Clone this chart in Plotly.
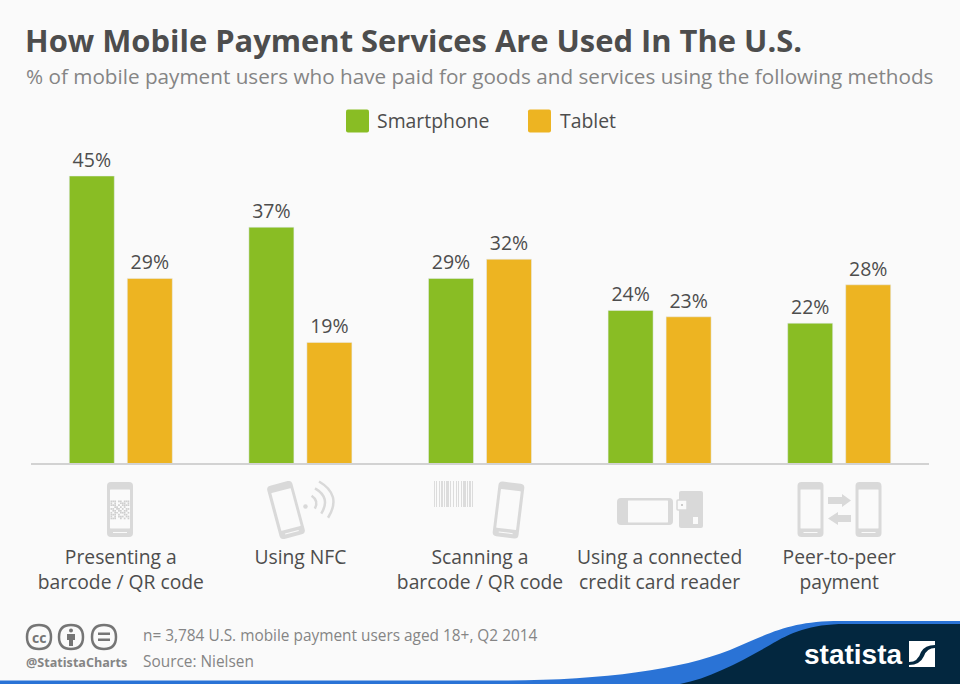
import math
import plotly.graph_objects as go

# chart data
categories = ["Presenting a<br>barcode / QR code", "Using NFC", "Scanning a<br>barcode / QR code",
              "Using a connected<br>credit card reader", "Peer-to-peer<br>payment"]
smartphone = [45, 37, 29, 24, 22]
tablet = [29, 19, 32, 23, 28]

title = "How Mobile Payment Services Are Used In The U.S."
subtitle = "% of mobile payment users who have paid for goods and services using the following methods"
note = "n= 3,784 U.S. mobile payment users aged 18+, Q2 2014"
source = "Source: Nielsen"
handle = "@StatistaCharts"

GREEN = "#89bd24"
YELLOW = "#edb422"
DARK = "#4d4d4d"
GREY = "#858585"
ICON = "#d9d9d9"
BG = "#fafafa"
NAVY = "#03273f"
BLUE = "#2a73d6"
FONT = "Open Sans"

# plot area in page pixels
LEFT, RIGHT, TOP, BASE = 31, 929, 144, 464


def fx(x):
    return (x - LEFT) / (RIGHT - LEFT)


def fy(y):
    return (BASE - y) / (BASE - TOP)


def pt(x, y):
    return f"{fx(x):.5f},{fy(y):.5f}"


shapes = []


def add_path(d, fill=None, line=None, width=0):
    shapes.append(dict(type="path", xref="paper", yref="paper", path=d,
                       fillcolor=fill or "rgba(0,0,0,0)",
                       line=dict(color=line or "rgba(0,0,0,0)", width=width)))


def poly(points):
    return "M" + " L".join(pt(x, y) for x, y in points) + " Z"


def rrect(cx, cy, w, h, r, angle=0):
    # rounded rectangle rotated around its centre
    a = math.radians(angle)

    def p(x, y):
        return pt(cx + x * math.cos(a) - y * math.sin(a), cy + x * math.sin(a) + y * math.cos(a))

    hw, hh = w / 2, h / 2
    return (f"M{p(-hw + r, -hh)} L{p(hw - r, -hh)} Q{p(hw, -hh)} {p(hw, -hh + r)} "
            f"L{p(hw, hh - r)} Q{p(hw, hh)} {p(hw - r, hh)} L{p(-hw + r, hh)} "
            f"Q{p(-hw, hh)} {p(-hw, hh - r)} L{p(-hw, -hh + r)} Q{p(-hw, -hh)} {p(-hw + r, -hh)} Z")


def phone(cx, cy, w=26, h=55, angle=0):
    a = math.radians(angle)
    add_path(rrect(cx, cy, w, h, 4, angle), fill=ICON)
    add_path(rrect(cx, cy - 0.5, w - 6, h - 16, 0.5, angle), fill=BG)
    # home button line
    bx, by = 0, h / 2 - 4.5
    add_path(rrect(cx + bx * math.cos(a) - by * math.sin(a), cy + bx * math.sin(a) + by * math.cos(a),
                   w - 12, 1, 0, angle), fill=BG)


def arc(cx, cy, r, mid, half):
    m, t = math.radians(mid), math.radians(half)
    x0, y0 = cx + r * math.cos(m - t), cy + r * math.sin(m - t)
    x1, y1 = cx + r * math.cos(m + t), cy + r * math.sin(m + t)
    qx, qy = cx + r / math.cos(t) * math.cos(m), cy + r / math.cos(t) * math.sin(m)
    add_path(f"M{pt(x0, y0)} Q{pt(qx, qy)} {pt(x1, y1)}", line=ICON, width=2.5)


# axis line
add_path(poly([(LEFT, 463), (RIGHT, 463), (RIGHT, 465), (LEFT, 465)]), fill="#d2d2d2")

# icon 1: phone with QR code
phone(120, 509.5)
qr_rows = ["1110110111", "1010011101", "1110101111", "0011010100", "1101101011",
           "0110110110", "1011011101", "1110100110", "1010111011", "1110010101"]
for row, bits in enumerate(qr_rows):
    for col, bit in enumerate(bits):
        if bit == "1":
            x, y = 110.5 + col * 1.9, 500.5 + row * 1.9
            add_path(poly([(x, y), (x + 1.7, y), (x + 1.7, y + 1.7), (x, y + 1.7)]), fill="#cfcfcf")

# icon 2: tilted phone and NFC waves
phone(286, 510, angle=-15)
add_path(rrect(305.5, 506.5, 4.5, 4.5, 2.2), fill=ICON)
arc(306, 504, 10, -14, 42)
arc(306, 504, 18, -14, 46)
arc(306, 504, 26, -14, 46)

# icon 3: barcode and phone
bar_widths = [1, 1, 1, 2, 1, 1, 2, 1, 1, 1, 3, 1, 1, 2, 1, 2, 1, 1, 1, 2, 1, 1, 3, 1, 1, 1, 2, 1, 1, 1]
bar_x = 434
for n, bw in enumerate(bar_widths):
    if n % 2 == 0:
        add_path(poly([(bar_x, 481), (bar_x + bw, 481), (bar_x + bw, 507), (bar_x, 507)]), fill="#dcdcdc")
    bar_x += bw
phone(508.5, 510, angle=7)

# icon 4: sideways phone with card reader
add_path(rrect(645, 511.5, 56, 27, 4), fill=ICON)
add_path(rrect(648, 511.5, 40, 22, 0.5), fill=BG)
add_path(rrect(691, 509.5, 24, 37, 2), fill=ICON)
add_path(rrect(682, 505, 10, 10, 1), fill=BG, line=ICON, width=1.5)
add_path(rrect(682, 505, 2, 2, 1), fill="#bdbdbd")
add_path(rrect(695.5, 520.5, 5, 7, 0), fill=BG)

# icon 5: two phones and arrows
phone(810.5, 509.5)
phone(868.5, 509.5)
add_path(poly([(828, 497), (842, 497), (842, 494), (851, 500.5), (842, 507), (842, 504), (828, 504)]), fill=ICON)
add_path(poly([(851, 515), (838, 515), (838, 512), (828, 518.5), (838, 525), (838, 522), (851, 522)]), fill=ICON)

# legend swatches
add_path(rrect(357.5, 121, 23, 23, 2), fill=GREEN)
add_path(rrect(539.5, 121, 23, 23, 2), fill=YELLOW)

# footer band
add_path(f"M{pt(0, 680.5)} L{pt(500, 680.5)} C{pt(600, 680.5)} {pt(680, 670)} {pt(730, 650)} "
         f"C{pt(770, 633)} {pt(790, 621)} {pt(840, 621)} L{pt(960, 621)} L{pt(960, 684)} L{pt(0, 684)} Z", fill=BLUE)
add_path(f"M{pt(680, 684)} C{pt(710, 678)} {pt(740, 662)} {pt(770, 645)} "
         f"C{pt(790, 633)} {pt(810, 624)} {pt(845, 624)} L{pt(960, 624)} L{pt(960, 684)} Z", fill=NAVY)

# logo square
add_path(poly([(909, 641), (935, 641), (935, 667), (909, 667)]), fill="white")
add_path(f"M{pt(909, 662)} Q{pt(918, 662)} {pt(921, 652)} Q{pt(925, 645)} {pt(935, 645)} L{pt(935, 648)} "
         f"Q{pt(927, 648)} {pt(924, 656)} Q{pt(920, 665)} {pt(909, 665)} Z", fill=NAVY)

# licence icons
for cx in [39, 71, 104]:
    add_path(rrect(cx, 637, 24, 24, 12), fill=BG, line="#757575", width=2.5)
add_path(rrect(71, 630.5, 4, 4, 2), fill="#757575")
add_path(poly([(67, 634), (75, 634), (75, 640), (73, 640), (73, 646), (69, 646), (69, 640), (67, 640)]), fill="#757575")
add_path(poly([(98, 632.5), (110, 632.5), (110, 635), (98, 635)]), fill="#757575")
add_path(poly([(98, 638.5), (110, 638.5), (110, 641), (98, 641)]), fill="#757575")


def label(x, y, text, size, color, anchor="left", bold=False, family=FONT):
    if bold:
        text = f"<b>{text}</b>"
    return dict(x=fx(x), y=fy(y), xref="paper", yref="paper", text=text, showarrow=False,
                xanchor=anchor, yanchor="middle", align=anchor,
                font=dict(family=family, size=size, color=color))


annotations = [
    label(24, 76, subtitle, 20.7, GREY),
    label(375, 120, "Smartphone", 19.4, DARK),
    label(558, 120, "Tablet", 19.4, DARK),
    label(39, 637, "cc", 14, "#757575", anchor="center", bold=True),
    label(24, 662, handle, 12.6, GREY, bold=True),
    label(141, 635, note, 15.4, GREY),
    label(141, 661, source, 15.4, GREY),
    label(802, 654, "statista", 28, "white", bold=True, family="Liberation Sans"),
]

fig = go.Figure()
fig.add_trace(go.Bar(x=categories, y=smartphone, name="Smartphone", marker_color=GREEN,
                     texttemplate="%{y}%", textposition="outside", cliponaxis=False))
fig.add_trace(go.Bar(x=categories, y=tablet, name="Tablet", marker_color=YELLOW,
                     texttemplate="%{y}%", textposition="outside", cliponaxis=False))

fig.update_traces(textfont=dict(family=FONT, size=19.5, color=DARK))
fig.update_layout(
    width=960, height=684,
    margin=dict(l=LEFT, r=960 - RIGHT, t=TOP, b=684 - BASE, autoexpand=False),
    paper_bgcolor=BG, plot_bgcolor=BG,
    barmode="group", bargap=0.354, bargroupgap=0.224,
    showlegend=False,
    title=dict(text=f"<b>{title}</b>", x=25 / 960, xanchor="left", y=1 - 41 / 684, yanchor="middle",
               font=dict(family=FONT, size=30.9, color=DARK)),
    shapes=shapes, annotations=annotations,
)
fig.update_xaxes(showline=False, ticks="", showgrid=False, zeroline=False,
                 ticklabelstandoff=80, tickfont=dict(family=FONT, size=19.3, color=DARK))
fig.update_yaxes(visible=False, range=[0, 50])

fig.write_html("out.html", config=dict(displayModeBar=False),
               post_script="document.body.style.margin='0';")
